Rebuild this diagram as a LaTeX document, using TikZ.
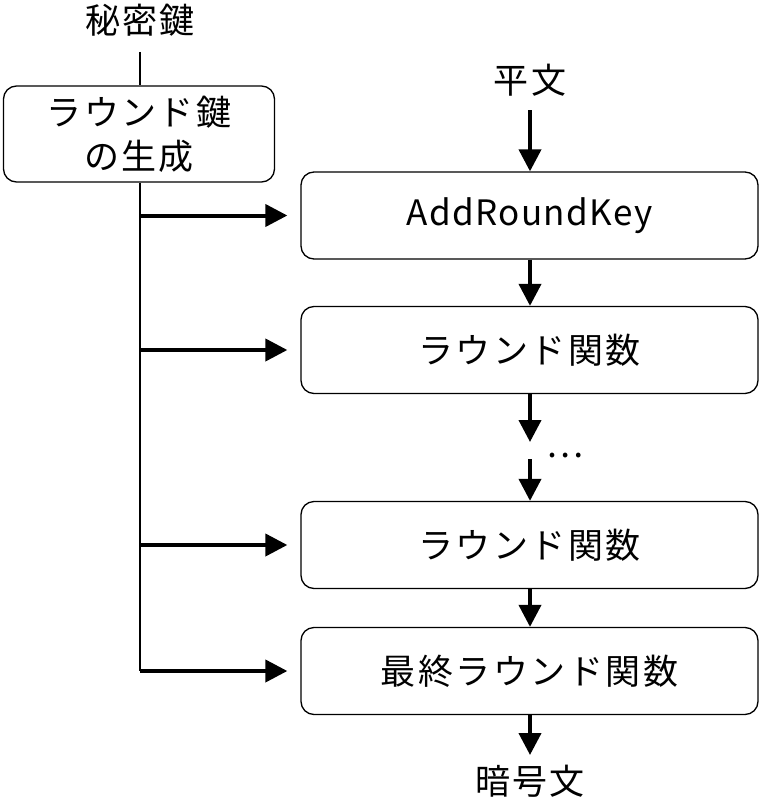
\documentclass[tikz,border=0pt]{standalone}
\usepackage{fontspec}
\setmainfont{Noto Sans CJK JP}[LetterSpace=7]
\usetikzlibrary{arrows.meta,calc}
\begin{document}
\begin{tikzpicture}[x=1pt,y=-1pt,
  every node/.style={font=\fontsize{35}{44}\selectfont, inner sep=0pt},
  box/.style={draw, line width=1.3pt, rounded corners=13pt, minimum width=457pt, minimum height=87pt},
  kbox/.style={draw, line width=1.3pt, rounded corners=13pt, minimum width=271pt, minimum height=96pt, align=center},
  arr/.style={line width=4pt, -{Triangle[width=22pt,length=22pt]}},
  thin/.style={line width=1.3pt}]
\useasboundingbox (0,0) rectangle (762,800);
\node (key) at (140,20) {秘密鍵};
\node[kbox] (gen) at (139,134) {ラウンド鍵\\の生成};
\node (plain) at (530,80) {平文};
\node[box] (ark) at (529.5,215.5) {\addfontfeature{LetterSpace=4}AddRoundKey};
\node[box] (r1) at (529.5,350) {ラウンド関数};
\node[box] (r2) at (529.5,545) {ラウンド関数};
\node[box] (fin) at (529.5,671) {最終ラウンド関数};
\node (cipher) at (530,781) {暗号文};
\node (dots) at (565,456) {\addfontfeature{LetterSpace=0}…};
\coordinate (d1) at (530,442);
\coordinate (d2) at (530,459);
\coordinate (ptop) at (530,110);
\coordinate (ktop) at (140,52);
\coordinate (cend) at (530,755);
% key line
\draw[thin] (ktop) -- (gen.north -| ktop);
\draw[thin] (gen.south -| ktop) -- (ktop |- fin);
\foreach \n in {ark,r1,r2,fin}
  \draw[arr, shorten >=13pt] (ktop |- \n) -- (\n.west);
% main chain
\draw[arr] (ptop) -- (ark.north -| ptop);
\draw[arr] (ark.south -| ptop) -- (r1.north -| ptop);
\draw[arr] (r1.south -| ptop) -- (d1);
\draw[arr] (d2) -- (r2.north -| ptop);
\draw[arr] (r2.south -| ptop) -- (fin.north -| ptop);
\draw[arr] (fin.south -| ptop) -- (cend);
\end{tikzpicture}
\end{document}
